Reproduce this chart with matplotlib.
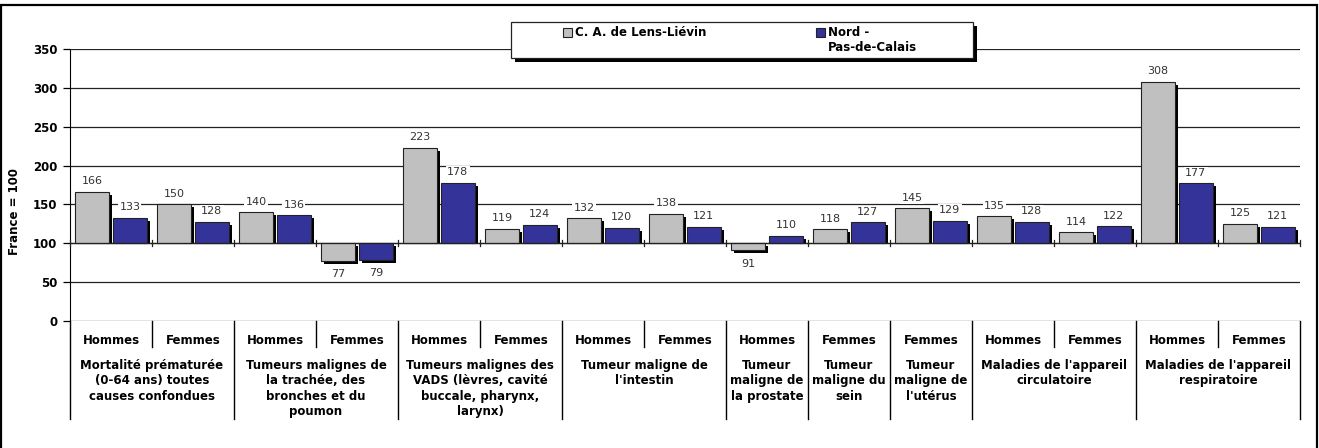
import matplotlib.pyplot as plt
import matplotlib.patheffects as pe
import matplotlib.transforms as mtransforms
from matplotlib.patches import Rectangle
import numpy as np

series_names = ['C. A. de Lens-Liévin', 'Nord -\nPas-de-Calais']
sexes = ['Hommes', 'Femmes', 'Hommes', 'Femmes', 'Hommes', 'Femmes', 'Hommes', 'Femmes',
         'Hommes', 'Femmes', 'Femmes', 'Hommes', 'Femmes', 'Hommes', 'Femmes']
lens_lievin = [166, 150, 140, 77, 223, 119, 132, 138, 91, 118, 145, 135, 114, 308, 125]
nord_pdc = [133, 128, 136, 79, 178, 124, 120, 121, 110, 127, 129, 128, 122, 177, 121]
groups = ["Mortalité prématurée\n(0-64 ans) toutes\ncauses confondues",
          "Tumeurs malignes de\nla trachée, des\nbronches et du\npoumon",
          "Tumeurs malignes des\nVADS (lèvres, cavité\nbuccale, pharynx,\nlarynx)",
          "Tumeur maligne de\nl'intestin",
          "Tumeur\nmaligne de\nla prostate",
          "Tumeur\nmaligne du\nsein",
          "Tumeur\nmaligne de\nl'utérus",
          "Maladies de l'appareil\ncirculatoire",
          "Maladies de l'appareil\nrespiratoire"]
group_sizes = [2, 2, 2, 2, 1, 1, 1, 2, 2]
base = 100

W, H = 1319, 448
fig = plt.figure(figsize=(W / 100, H / 100), dpi=100)
ax = fig.add_axes([70 / W, (H - 321) / H, 1230 / W, 272 / H])
ax.set_xlim(0, len(sexes))
ax.set_ylim(0, 350)

# data units per pixel, used for the 3px drop shadow
dx = len(sexes) / 1230
dy = 350 / 272

x = np.arange(len(sexes)) + 0.5
bw = 0.42
colors = ['#C0C0C0', '#333399']
for vals, off, col in [(lens_lievin, -0.23, colors[0]), (nord_pdc, 0.23, colors[1])]:
    v = np.array(vals)
    # shadow: shifted right and down, hidden under the baseline for upward bars
    sh_bottom = np.where(v >= base, base, base - 3 * dy)
    sh_top = np.where(v >= base, v - 3 * dy, v - 3 * dy)
    ax.bar(x + off + 3 * dx, sh_top - sh_bottom, bottom=sh_bottom, width=bw,
           color='black', linewidth=0, zorder=2.5)
    ax.bar(x + off, v - base, bottom=base, width=bw, color=col,
           edgecolor='#222222', linewidth=0.8, zorder=3)
    for xi, val in zip(x + off, v):
        if val >= base:
            ax.annotate(str(val), (xi, val), xytext=(0, 4), textcoords='offset points',
                        ha='center', va='bottom', fontsize=8, color='#333333', zorder=5,
                        bbox=dict(boxstyle='square,pad=0.1', fc='white', ec='none'))
        else:
            ax.annotate(str(val), (xi, val), xytext=(0, -6), textcoords='offset points',
                        ha='center', va='top', fontsize=8, color='#333333', zorder=5,
                        bbox=dict(boxstyle='square,pad=0.1', fc='white', ec='none'))

# grid and axes
ax.set_yticks(range(0, 351, 50))
ax.set_yticklabels([str(t) for t in range(0, 351, 50)], fontweight='bold', fontsize=8.5)
ax.yaxis.grid(True, color='#222222', linewidth=0.9, zorder=0)
ax.set_axisbelow(True)
ax.set_xticks([])
for s in ['top', 'right', 'bottom']:
    ax.spines[s].set_visible(False)
ax.spines['left'].set_color('black')
ax.tick_params(axis='y', length=5, width=0.9, pad=4)
ax.axhline(base, color='#222222', linewidth=0.9, zorder=4)
for b in range(len(sexes) + 1):
    ax.plot([b, b], [96, 104], color='#222222', linewidth=0.9, zorder=4, clip_on=False)

# category axis labels
tr = mtransforms.blended_transform_factory(ax.transData, ax.transAxes)
for i, s in enumerate(sexes):
    ax.text(i + 0.5, -0.07, s, transform=tr, ha='center', va='center',
            fontsize=8.5, fontweight='bold')
starts = np.cumsum([0] + group_sizes)
for b in range(len(sexes) + 1):
    y_end = -0.36 if b in starts else -0.097
    ax.plot([b, b], [0, y_end], transform=tr, color='black', linewidth=1, clip_on=False)
for g, st, n in zip(groups, starts[:-1], group_sizes):
    ax.text(st + n / 2, -0.138, g, transform=tr, ha='center', va='top',
            fontsize=8.5, fontweight='bold', linespacing=1.25)

fig.text(14 / W, (H - 211) / H, 'France = 100', rotation=90, ha='center', va='center',
         fontsize=8.5, fontweight='bold')

# legend box
shadow = [pe.SimplePatchShadow(offset=(3, -3), shadow_rgbFace='black', alpha=1), pe.Normal()]
lx0, ly0, lx1, ly1 = 511, 22, 973, 58
fig.patches.append(Rectangle((lx0 / W, (H - ly1) / H), (lx1 - lx0) / W, (ly1 - ly0) / H,
                             transform=fig.transFigure, fc='white', ec='#222222', lw=0.9,
                             path_effects=shadow, zorder=5))
for name, col, px in zip(series_names, colors, [563, 816]):
    fig.patches.append(Rectangle((px / W, (H - 37) / H), 9 / W, 9 / H, transform=fig.transFigure,
                                 fc=col, ec='#222222', lw=0.8, zorder=6))
    fig.text((px + 12) / W, (H - 26) / H, name, ha='left', va='top', fontsize=8.5,
             fontweight='bold', linespacing=1.2, zorder=7)

# outer frame
fig.patches.append(Rectangle((1 / W, -0.01), 1316 / W, (H - 5) / H + 0.01,
                             transform=fig.transFigure, fc='none', ec='black', lw=1.6))

fig.savefig('out.png', dpi=100)
